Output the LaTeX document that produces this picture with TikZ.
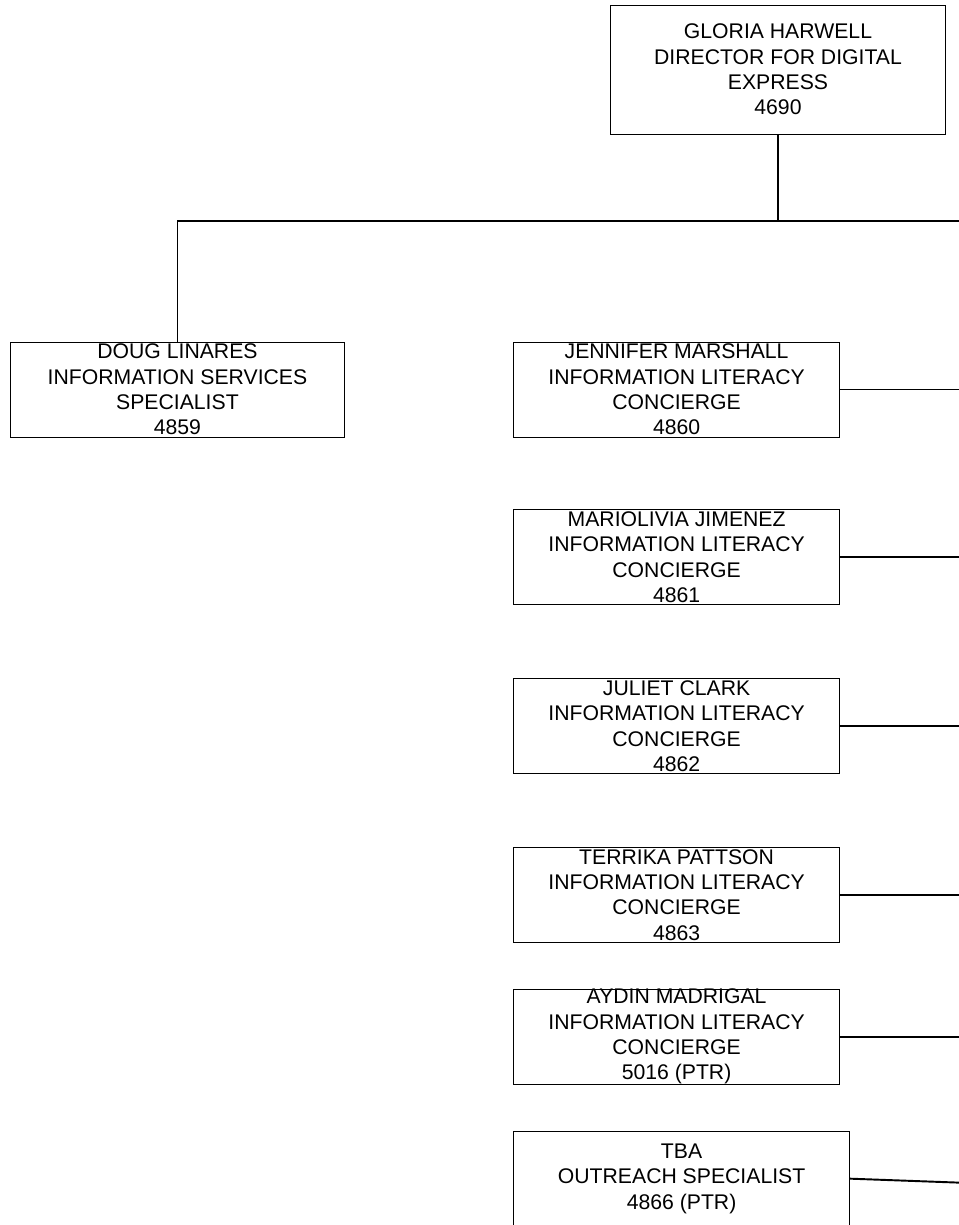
\documentclass[tikz,border=0pt]{standalone}
\usepackage{fontspec}
\setmainfont{Liberation Sans}
\usetikzlibrary{positioning}
\tikzset{
    person/.style={rectangle, minimum width=251pt, minimum height=71.25pt, inner sep=0pt, align=center, draw=black, line width=0.6pt, font=\fontsize{15.9pt}{19pt}\selectfont},
    concierge/.style={person, minimum width=244.5pt},
    link/.style={line width=1.45pt}
}

\begin{document}
\begin{tikzpicture}
        \useasboundingbox (0,0) rectangle (718.5pt,-918.75pt);
        % Nodes
        \node (gloria) [person, minimum height=96.75pt] at (583.5pt,-52.1pt) {GLORIA HARWELL\\DIRECTOR FOR DIGITAL\\EXPRESS\\4690};
        \node (doug) [person] at (133.1pt,-292.1pt) {DOUG LINARES\\INFORMATION SERVICES\\SPECIALIST\\4859};
        \node (jennifer) [concierge, right=126pt of doug] {JENNIFER MARSHALL\\INFORMATION LITERACY\\CONCIERGE\\4860};
        \node (mariolivia) [concierge, below=54pt of jennifer] {MARIOLIVIA JIMENEZ\\INFORMATION LITERACY\\CONCIERGE\\4861};
        \node (juliet) [concierge, below=54.75pt of mariolivia] {JULIET CLARK\\INFORMATION LITERACY\\CONCIERGE\\4862};
        \node (terrika) [concierge, below=54.75pt of juliet] {TERRIKA PATTSON\\INFORMATION LITERACY\\CONCIERGE\\4863};
        \node (aydin) [concierge, below=34.5pt of terrika] {AYDIN MADRIGAL\\INFORMATION LITERACY\\CONCIERGE\\5016 (PTR)};
        \node (tba) [person, minimum width=252pt, below=34.5pt of aydin.south west, anchor=north west] {TBA\\OUTREACH SPECIALIST\\4866 (PTR)};
        \coordinate (busend) at (720pt,-165.75pt);
        \coordinate (tbaend) at ([yshift=-3pt]tba.east -| busend);

        % Lines
        \draw [link] (gloria.south) -- (gloria.south |- busend);
        \draw [link] (doug.north) |- (busend);
        \foreach \n in {jennifer, mariolivia, juliet, terrika, aydin}
            \draw [link] (\n.east) -- (\n.east -| busend);
        \draw [link] (tba.east) -- (tbaend);
    \end{tikzpicture}
\end{document}
